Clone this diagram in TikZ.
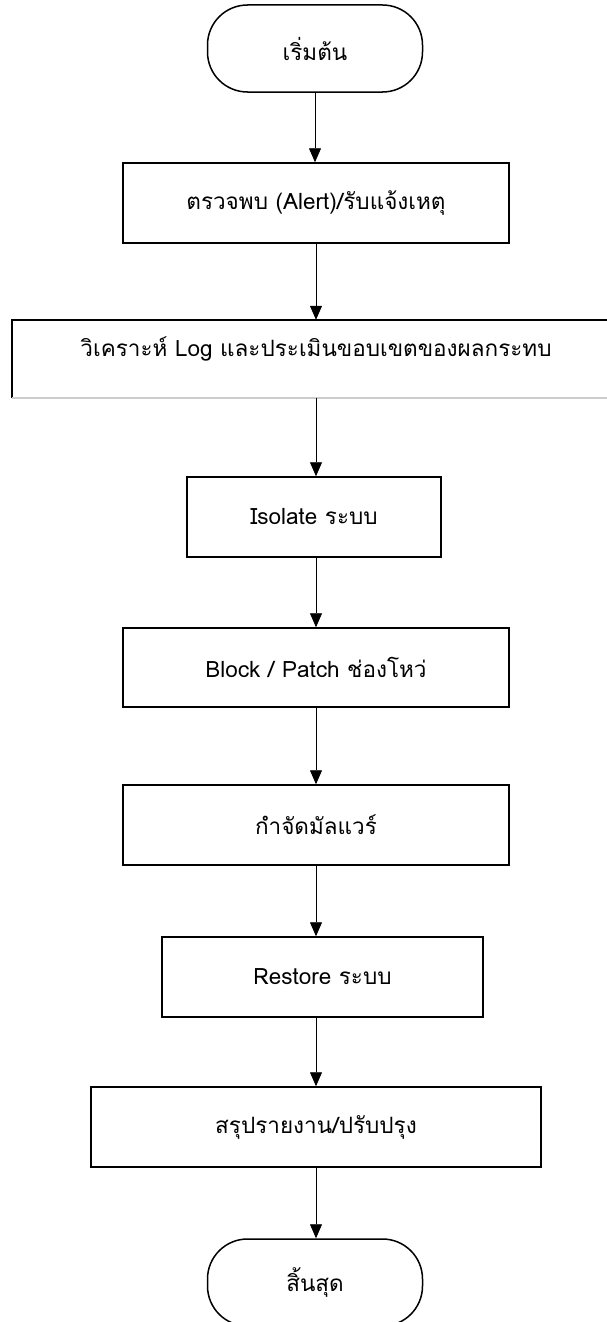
\documentclass[tikz,border=0pt]{standalone}
\usepackage{fontspec}
\setmainfont[Script=Thai]{Loma}
\usetikzlibrary{arrows.meta}
\begin{document}
\begin{tikzpicture}[x=1pt,y=-1pt,
  every node/.style={font=\fontsize{22.5}{26}\selectfont, inner sep=0pt, align=center},
  term/.style={draw, line width=1.5pt, rounded corners=40pt,
               minimum width=215pt, minimum height=87pt},
  stepbox/.style={draw, line width=1.5pt, minimum height=80pt},
  flow/.style={line width=0.8pt, -{Triangle[length=14pt,width=12pt]}}]
  \useasboundingbox (0,0) rectangle (607,1322);
  \clip (0,0) rectangle (607,1322);

  % start / end terminals
  \node[term] (start) at (315,48.5) {เริ่มต้น};

  % process steps
  \node[stepbox, minimum width=386pt] (detect) at (316,203) {ตรวจพบ (Alert)/รับแจ้งเหตุ};
  % wide analysis box: runs off the right edge, faint lower edge
  \node[minimum width=608pt, minimum height=78pt] (analyse) at (316,359) {};
  \node (analysetext) at ([yshift=10pt]analyse.center) {วิเคราะห์ Log และประเมินขอบเขตของผลกระทบ};
  \draw[line width=1.5pt] (analyse.south west) -- (analyse.north west) -- (analyse.north east);
  \draw[line width=1.5pt, black!20] (analyse.south west) -- (analyse.south east);
  \node[stepbox, minimum width=254pt] (isolate) at (314,517) {Isolate ระบบ};
  \node[stepbox, minimum width=386pt, minimum height=79pt] (patch) at (316,667.5) {Block / Patch ช่องโหว่};
  \node[stepbox, minimum width=386pt] (clean) at (316,825) {กำจัดมัลแวร์};
  \node[stepbox, minimum width=321pt] (restore) at (322.5,977) {Restore ระบบ};
  \node[stepbox, minimum width=450pt] (report) at (316,1127) {สรุปรายงาน/ปรับปรุง};

  \node[term] (finish) at (315,1282.5) {สิ้นสุด};

  % connectors
  \draw[flow] (start.south) -- (start.south |- detect.north);
  \draw[flow] (detect.south) -- (detect.south |- analyse.north);
  \draw[flow] (analyse.south) -- (analyse.south |- isolate.north);
  \draw[flow] (isolate.south -| analyse.south) -- (analyse.south |- patch.north);
  \draw[flow] (patch.south) -- (patch.south |- clean.north);
  \draw[flow] (clean.south) -- (clean.south |- restore.north);
  \draw[flow] (restore.south -| clean.south) -- (clean.south |- report.north);
  \draw[flow] (report.south) -- (report.south |- finish.north);
\end{tikzpicture}
\end{document}
